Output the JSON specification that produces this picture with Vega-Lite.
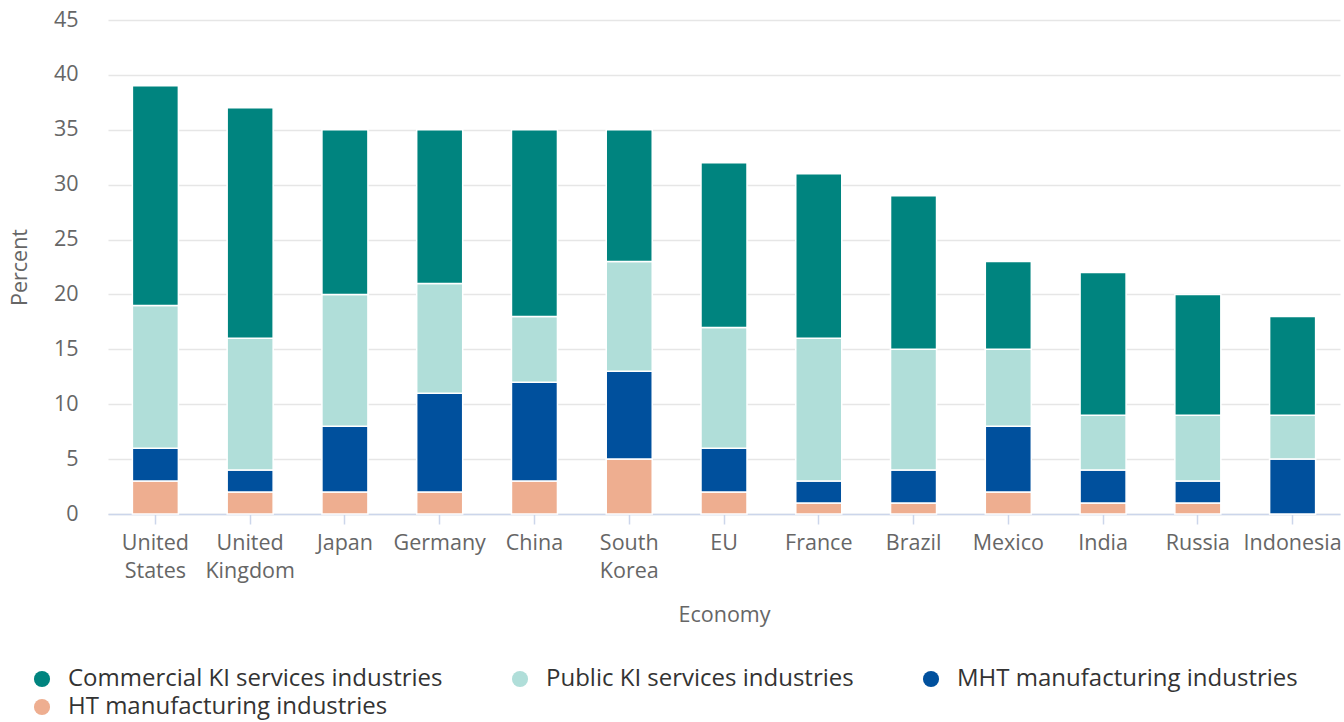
{
  "$schema": "https://vega.github.io/schema/vega-lite/v6.json",
  "autosize": "none",
  "width": 1232,
  "height": 494,
  "padding": {"left": 108, "top": 20, "right": 4, "bottom": 208},
  "background": "white",
  "config": {"view": {"stroke": null}, "font": "Open Sans"},
  "data": {"values": [
    {"economy": "United States", "category": "HT manufacturing industries", "value": 3},
    {"economy": "United States", "category": "MHT manufacturing industries", "value": 3},
    {"economy": "United States", "category": "Public KI services industries", "value": 13},
    {"economy": "United States", "category": "Commercial KI services industries", "value": 20},
    {"economy": "United Kingdom", "category": "HT manufacturing industries", "value": 2},
    {"economy": "United Kingdom", "category": "MHT manufacturing industries", "value": 2},
    {"economy": "United Kingdom", "category": "Public KI services industries", "value": 12},
    {"economy": "United Kingdom", "category": "Commercial KI services industries", "value": 21},
    {"economy": "Japan", "category": "HT manufacturing industries", "value": 2},
    {"economy": "Japan", "category": "MHT manufacturing industries", "value": 6},
    {"economy": "Japan", "category": "Public KI services industries", "value": 12},
    {"economy": "Japan", "category": "Commercial KI services industries", "value": 15},
    {"economy": "Germany", "category": "HT manufacturing industries", "value": 2},
    {"economy": "Germany", "category": "MHT manufacturing industries", "value": 9},
    {"economy": "Germany", "category": "Public KI services industries", "value": 10},
    {"economy": "Germany", "category": "Commercial KI services industries", "value": 14},
    {"economy": "China", "category": "HT manufacturing industries", "value": 3},
    {"economy": "China", "category": "MHT manufacturing industries", "value": 9},
    {"economy": "China", "category": "Public KI services industries", "value": 6},
    {"economy": "China", "category": "Commercial KI services industries", "value": 17},
    {"economy": "South Korea", "category": "HT manufacturing industries", "value": 5},
    {"economy": "South Korea", "category": "MHT manufacturing industries", "value": 8},
    {"economy": "South Korea", "category": "Public KI services industries", "value": 10},
    {"economy": "South Korea", "category": "Commercial KI services industries", "value": 12},
    {"economy": "EU", "category": "HT manufacturing industries", "value": 2},
    {"economy": "EU", "category": "MHT manufacturing industries", "value": 4},
    {"economy": "EU", "category": "Public KI services industries", "value": 11},
    {"economy": "EU", "category": "Commercial KI services industries", "value": 15},
    {"economy": "France", "category": "HT manufacturing industries", "value": 1},
    {"economy": "France", "category": "MHT manufacturing industries", "value": 2},
    {"economy": "France", "category": "Public KI services industries", "value": 13},
    {"economy": "France", "category": "Commercial KI services industries", "value": 15},
    {"economy": "Brazil", "category": "HT manufacturing industries", "value": 1},
    {"economy": "Brazil", "category": "MHT manufacturing industries", "value": 3},
    {"economy": "Brazil", "category": "Public KI services industries", "value": 11},
    {"economy": "Brazil", "category": "Commercial KI services industries", "value": 14},
    {"economy": "Mexico", "category": "HT manufacturing industries", "value": 2},
    {"economy": "Mexico", "category": "MHT manufacturing industries", "value": 6},
    {"economy": "Mexico", "category": "Public KI services industries", "value": 7},
    {"economy": "Mexico", "category": "Commercial KI services industries", "value": 8},
    {"economy": "India", "category": "HT manufacturing industries", "value": 1},
    {"economy": "India", "category": "MHT manufacturing industries", "value": 3},
    {"economy": "India", "category": "Public KI services industries", "value": 5},
    {"economy": "India", "category": "Commercial KI services industries", "value": 13},
    {"economy": "Russia", "category": "HT manufacturing industries", "value": 1},
    {"economy": "Russia", "category": "MHT manufacturing industries", "value": 2},
    {"economy": "Russia", "category": "Public KI services industries", "value": 6},
    {"economy": "Russia", "category": "Commercial KI services industries", "value": 11},
    {"economy": "Indonesia", "category": "HT manufacturing industries", "value": 0},
    {"economy": "Indonesia", "category": "MHT manufacturing industries", "value": 5},
    {"economy": "Indonesia", "category": "Public KI services industries", "value": 4},
    {"economy": "Indonesia", "category": "Commercial KI services industries", "value": 9}
  ]},
  "transform": [
    {"calculate": "indexof(['HT manufacturing industries','MHT manufacturing industries','Public KI services industries','Commercial KI services industries'], datum.category)", "as": "stackOrder"}
  ],
  "mark": {"type": "bar", "stroke": "white", "strokeWidth": 1.5, "width": 46},
  "encoding": {
    "x": {
      "field": "economy", "type": "nominal", "sort": null,
      "title": "Economy",
      "scale": {"paddingInner": 0.5, "paddingOuter": 0.25},
      "axis": {
        "labelAngle": 0, "labelFontSize": 21.5, "labelColor": "#666666", "labelFont": "Open Sans",
        "labelExpr": "split(datum.label, ' ')", "labelLineHeight": 28, "labelPadding": 8,
        "domainColor": "#ccd6eb", "domainWidth": 1.5, "tickColor": "#ccd6eb", "tickSize": 10, "tickWidth": 1.5,
        "titleFontSize": 21.5, "titleColor": "#666666", "titleFontWeight": "normal", "titlePadding": 23, "titleFont": "Open Sans"
      }
    },
    "y": {
      "field": "value", "type": "quantitative", "stack": "zero",
      "title": "Percent",
      "scale": {"domain": [0, 45]},
      "axis": {
        "values": [0, 5, 10, 15, 20, 25, 30, 35, 40, 45],
        "labelFontSize": 21.5, "labelColor": "#666666", "labelFont": "Open Sans", "labelPadding": 30,
        "domain": false, "ticks": false, "gridColor": "#e6e6e6", "gridWidth": 1.5,
        "titleFontSize": 21.5, "titleColor": "#666666", "titleFontWeight": "normal", "titlePadding": 22, "titleFont": "Open Sans"
      }
    },
    "color": {
      "field": "category", "type": "nominal",
      "scale": {
        "domain": ["Commercial KI services industries", "Public KI services industries", "MHT manufacturing industries", "HT manufacturing industries"],
        "range": ["#00847f", "#b0ded9", "#00509d", "#eeae90"]
      },
      "legend": {
        "title": null, "orient": "none", "legendX": -78, "legendY": 647, "direction": "horizontal", "columns": 3,
        "symbolType": "circle", "symbolSize": 260, "symbolStrokeWidth": 0, "symbolOffset": 0,
        "labelFontSize": 24, "labelColor": "#333333", "labelFont": "Open Sans", "labelOffset": 14,
        "columnPadding": 65, "rowPadding": 4, "labelLimit": 600
      }
    },
    "order": {"field": "stackOrder", "type": "quantitative"}
  }
}
